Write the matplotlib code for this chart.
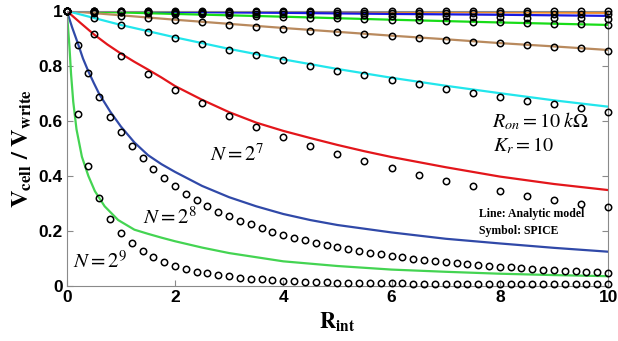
import numpy as np
import matplotlib
matplotlib.use("Agg")
import matplotlib.pyplot as plt

plt.rcParams["mathtext.fontset"] = "stix"
plt.rcParams["font.family"] = "Liberation Serif"

# ---------------------------------------------------------------------------
# Data (V_cell / V_write vs R_int)
# ---------------------------------------------------------------------------
# analytic model lines
x_top = [0, 2, 4, 6, 8, 10]
line_n2 = [1.0, 0.9995, 0.999, 0.9985, 0.998, 0.997]
line_n4 = [1.0, 0.999, 0.9975, 0.996, 0.995, 0.993]
line_n8 = [1.0, 0.996, 0.993, 0.989, 0.986, 0.982]
line_n16 = [1.0, 0.989, 0.979, 0.968, 0.958, 0.949]

x_mid = [0, 1, 2, 3, 4, 5, 6, 7, 8, 9, 10]
line_n32 = [1.0, 0.984, 0.968, 0.953, 0.938, 0.924, 0.910, 0.897, 0.883, 0.871, 0.858]
line_n64 = [1.0, 0.949, 0.904, 0.862, 0.824, 0.789, 0.757, 0.728, 0.701, 0.675, 0.652]

x_n128 = [0, 0.25, 0.5, 0.75, 1.0, 1.25, 1.5, 1.75, 2.0, 2.5, 3.0, 3.5, 4.0, 4.5,
          5.0, 5.5, 6.0, 7.0, 8.0, 9.0, 10.0]
line_n128 = [1.0, 0.957, 0.915, 0.878, 0.845, 0.815, 0.787, 0.758, 0.727, 0.677,
             0.632, 0.594, 0.564, 0.538, 0.513, 0.49, 0.469, 0.432, 0.398, 0.371, 0.349]

x_n256 = [0, 0.1, 0.2, 0.3, 0.4, 0.5, 0.6, 0.8, 1.0, 1.25, 1.5, 1.75, 2.0, 2.5,
          3.0, 3.5, 4.0, 4.5, 5.0, 6.0, 7.0, 8.0, 9.0, 10.0]
line_n256 = [1.0, 0.94, 0.885, 0.827, 0.78, 0.738, 0.698, 0.635, 0.58, 0.522, 0.476,
             0.443, 0.415, 0.364, 0.323, 0.29, 0.262, 0.24, 0.222, 0.195, 0.172,
             0.155, 0.139, 0.125]

x_n512 = [0, 0.02, 0.05, 0.08, 0.12, 0.18, 0.28, 0.4, 0.52, 0.7, 0.95, 1.25, 1.5,
          1.75, 2.0, 2.5, 3.0, 4.0, 5.0, 6.0, 7.0, 8.0, 9.0, 10.0]
line_n512 = [1.0, 0.95, 0.87, 0.77, 0.67, 0.57, 0.47, 0.40, 0.345, 0.29, 0.24, 0.205,
             0.19, 0.176, 0.163, 0.14, 0.12, 0.09, 0.073, 0.06, 0.052, 0.045, 0.04, 0.036]

# SPICE symbols, step 0.5 for N = 2..128
x_sym_coarse = np.linspace(0, 10, 21)
sym_n2 = [1.0] + [0.998] * 20
sym_n4 = [1.0, 0.999, 0.998, 0.998, 0.997, 0.997, 0.996, 0.996, 0.995, 0.995, 0.994,
          0.994, 0.993, 0.993, 0.992, 0.992, 0.991, 0.991, 0.990, 0.990, 0.989]
sym_n8 = [1.0, 0.998, 0.997, 0.995, 0.994, 0.993, 0.991, 0.990, 0.988, 0.987, 0.985,
          0.984, 0.983, 0.981, 0.980, 0.979, 0.977, 0.976, 0.975, 0.973, 0.972]
sym_n16 = [1.0, 0.997, 0.995, 0.992, 0.99, 0.987, 0.984, 0.982, 0.979, 0.976, 0.974,
           0.971, 0.968, 0.966, 0.963, 0.961, 0.958, 0.956, 0.953, 0.951, 0.948]
sym_n32 = [1.0, 0.992, 0.983, 0.975, 0.967, 0.958, 0.949, 0.943, 0.935, 0.927, 0.922,
           0.916, 0.91, 0.903, 0.895, 0.888, 0.883, 0.876, 0.87, 0.865, 0.856]
sym_n64 = [1.0, 0.973, 0.949, 0.922, 0.9, 0.88, 0.858, 0.84, 0.82, 0.801, 0.783,
           0.766, 0.749, 0.733, 0.715, 0.701, 0.686, 0.674, 0.661, 0.646, 0.634]
sym_n128 = [1.0, 0.915, 0.836, 0.771, 0.714, 0.664, 0.618, 0.579, 0.543, 0.509, 0.48,
            0.454, 0.428, 0.404, 0.383, 0.362, 0.345, 0.327, 0.313, 0.298, 0.286]

# SPICE symbols, step 0.2 for N = 256, 512
x_sym_fine = np.linspace(0, 10, 51)
sym_n256 = [1.0, 0.875, 0.773, 0.688, 0.616, 0.561, 0.508, 0.464, 0.426, 0.393,
            0.364, 0.336, 0.312, 0.29, 0.271, 0.253, 0.238, 0.224, 0.21, 0.198,
            0.186, 0.176, 0.168, 0.158, 0.149, 0.142, 0.135, 0.128, 0.122, 0.116,
            0.11, 0.105, 0.1, 0.096, 0.092, 0.088, 0.084, 0.08, 0.077, 0.074,
            0.071, 0.068, 0.065, 0.062, 0.06, 0.058, 0.056, 0.054, 0.052, 0.05, 0.048]
sym_n512 = [1.0, 0.627, 0.435, 0.32, 0.244, 0.194, 0.155, 0.128, 0.107, 0.088,
            0.073, 0.062, 0.053, 0.046, 0.04, 0.035, 0.031, 0.027, 0.024, 0.021,
            0.019, 0.017, 0.016, 0.015, 0.014, 0.013, 0.012, 0.012, 0.011, 0.011,
            0.010, 0.010, 0.009, 0.009, 0.009, 0.008, 0.008, 0.008, 0.008, 0.007,
            0.007, 0.007, 0.007, 0.007, 0.006, 0.006, 0.006, 0.006, 0.006, 0.006, 0.006]

lines = [
    (x_top, line_n2, "#E8304A"),
    (x_top, line_n4, "#F08A24"),
    (x_top, line_n8, "#1818E0"),
    (x_top, line_n16, "#18DC18"),
    (x_mid, line_n32, "#B98A5E"),
    (x_mid, line_n64, "#22E6EC"),
    (x_n128, line_n128, "#E3161B"),
    (x_n256, line_n256, "#3049A8"),
    (x_n512, line_n512, "#44D452"),
]
symbols = [
    (x_sym_coarse, sym_n2), (x_sym_coarse, sym_n4), (x_sym_coarse, sym_n8),
    (x_sym_coarse, sym_n16), (x_sym_coarse, sym_n32), (x_sym_coarse, sym_n64),
    (x_sym_coarse, sym_n128), (x_sym_fine, sym_n256), (x_sym_fine, sym_n512),
]

fig = plt.figure(figsize=(6.18, 3.41), dpi=100)
ax = fig.add_axes([0.108, 0.161, 0.876, 0.807])

for xs, ys, c in lines:
    ax.plot(xs, ys, color=c, lw=1.6, zorder=2)
for xs, ys in symbols:
    ax.plot(xs, ys, ls="none", marker="o", ms=4.6, mfc="none", mec="black",
            mew=1.1, zorder=3, clip_on=False)

ax.set_xlim(0, 10)
ax.set_ylim(0, 1)
ax.set_xticks([0, 2, 4, 6, 8, 10])
ax.set_yticks([0, 0.2, 0.4, 0.6, 0.8, 1.0])
ax.set_yticklabels(["0", "0.2", "0.4", "0.6", "0.8", "1"])
for s in ax.spines.values():
    s.set_color("#8a8a8a")
    s.set_linewidth(0.8)
ax.tick_params(direction="in", length=4, width=0.8, color="#8a8a8a",
               right=True, top=False, pad=3)
for lab in ax.get_xticklabels() + ax.get_yticklabels():
    lab.set_family("Liberation Sans")
    lab.set_fontweight("bold")
    lab.set_fontsize(12.5)

ax.set_xlabel(r"$\mathbf{R_{int}}$", fontsize=16, labelpad=4)
ax.set_ylabel(r"$\mathbf{V_{cell}\ /\ V_{write}}$", fontsize=17.5, labelpad=3)

ax.text(2.65, 0.475, r"$N=2^7$", fontsize=15, va="center", ha="left")
ax.text(1.40, 0.248, r"$N=2^8$", fontsize=15, va="center", ha="left")
ax.text(0.11, 0.087, r"$N=2^9$", fontsize=15, va="center", ha="left")
ax.text(7.85, 0.60, r"$R_{on}=10\;k\Omega$", fontsize=14.5, va="center", ha="left")
ax.text(7.87, 0.51, r"$K_r=10$", fontsize=14.5, va="center", ha="left")
ax.text(7.62, 0.262, "Line: Analytic model", fontsize=8.5, fontweight="bold",
        va="center", ha="left")
ax.text(7.62, 0.200, "Symbol: SPICE", fontsize=8.5, fontweight="bold",
        va="center", ha="left")

fig.savefig("out.png", dpi=100)
